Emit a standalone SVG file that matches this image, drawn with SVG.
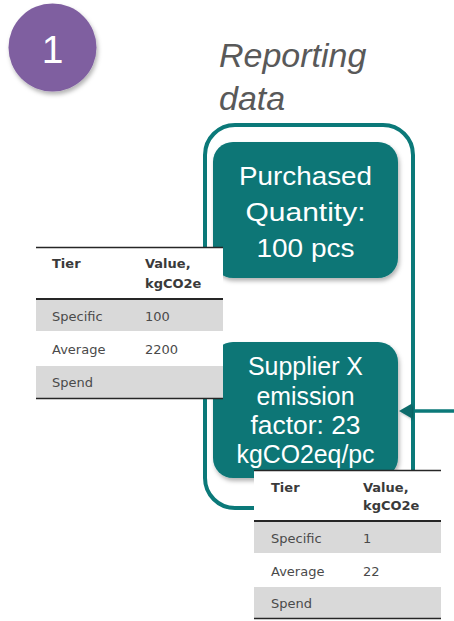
<svg xmlns="http://www.w3.org/2000/svg" width="454" height="621" viewBox="0 0 454 621">
  <defs>
    <filter id="shadow" x="-20%" y="-20%" width="140%" height="150%">
      <feDropShadow dx="1.5" dy="3" stdDeviation="2.2" flood-color="#000" flood-opacity="0.3"/>
    </filter>
    <filter id="softShadow" x="-10%" y="-10%" width="120%" height="130%">
      <feDropShadow dx="1" dy="1.5" stdDeviation="1.2" flood-color="#000" flood-opacity="0.25"/>
    </filter>
  </defs>
  <style>
    .box { fill: #087676; filter: url(#shadow); }
    .box-text { font-family: "Liberation Sans", Arial, sans-serif; font-size: 26px; fill: #ffffff; text-anchor: middle; }
    .frame { fill: none; stroke: #0b7979; stroke-width: 4; }
    .caption { font-family: "Liberation Sans", Arial, sans-serif; font-size: 34px; font-style: italic; fill: #595959; }
    .tbl-bg { fill: #ffffff; }
    .tbl-band { fill: #d9d9d9; }
    .tbl-rule { stroke: #262626; fill: none; }
    .th { font-family: "DejaVu Sans", Verdana, sans-serif; font-size: 13px; font-weight: bold; fill: #3a3a3a; }
    .td { font-family: "DejaVu Sans", Verdana, sans-serif; font-size: 13px; fill: #4a4a4a; }
    .connector { stroke: #0b7979; stroke-width: 3.5; fill: none; }
    .arrowhead { fill: #0b6a6a; filter: url(#softShadow); }
  </style>

  <!-- step badge -->
  <g id="badge">
    <circle cx="52.5" cy="47.5" r="44" fill="#7f5fa0" filter="url(#shadow)"/>
    <text x="52.5" y="63" font-family="'Liberation Sans', Arial, sans-serif" font-size="39" fill="#ffffff" text-anchor="middle">1</text>
  </g>

  <!-- section caption -->
  <g id="caption">
    <text class="caption" x="219" y="67">Reporting</text>
    <text class="caption" x="219" y="110">data</text>
  </g>

  <!-- reporting data frame -->
  <g id="frame">
    <rect class="frame" x="205" y="125" width="208" height="383" rx="30" ry="30"/>
  </g>

  <!-- purchased quantity -->
  <g id="purchased-quantity">
    <rect class="box" x="213" y="142" width="185" height="136" rx="20" ry="20"/>
    <text class="box-text" x="305.5" y="185" textLength="133" lengthAdjust="spacingAndGlyphs">Purchased</text>
    <text class="box-text" x="305.5" y="221" textLength="120" lengthAdjust="spacingAndGlyphs">Quantity:</text>
    <text class="box-text" x="305.5" y="257" textLength="98" lengthAdjust="spacingAndGlyphs">100 pcs</text>
  </g>

  <!-- supplier emission factor -->
  <g id="supplier-factor">
    <rect class="box" x="213" y="342" width="185" height="136" rx="20" ry="20"/>
    <text class="box-text" x="305.5" y="375" textLength="115" lengthAdjust="spacingAndGlyphs">Supplier X</text>
    <text class="box-text" x="305.5" y="405" textLength="98" lengthAdjust="spacingAndGlyphs">emission</text>
    <text class="box-text" x="305.5" y="434" textLength="110" lengthAdjust="spacingAndGlyphs">factor: 23</text>
    <text class="box-text" x="305.5" y="463" textLength="138" lengthAdjust="spacingAndGlyphs">kgCO2eq/pc</text>
  </g>

  <!-- connectors -->
  <g id="connectors">
    <line class="connector" x1="454" y1="411" x2="410" y2="411"/>
    <polygon class="arrowhead" points="399,411 412,403.5 412,418.5"/>
  </g>

  <!-- tier table for purchased quantity -->
  <g id="table-quantity">
    <rect class="tbl-bg" x="36" y="247" width="187" height="151"/>
    <rect class="tbl-band" x="36" y="299" width="187" height="32"/>
    <rect class="tbl-band" x="36" y="366" width="187" height="32"/>
    <line class="tbl-rule" x1="36" y1="247.5" x2="223" y2="247.5" stroke-width="1.5"/>
    <line class="tbl-rule" x1="36" y1="299" x2="223" y2="299" stroke-width="2"/>
    <line class="tbl-rule" x1="36" y1="398.5" x2="223" y2="398.5" stroke-width="1.5"/>
    <text class="th" x="52" y="268">Tier</text>
    <text class="th" x="145" y="268">Value,</text>
    <text class="th" x="145" y="288">kgCO2e</text>
    <text class="td" x="52" y="321">Specific</text>
    <text class="td" x="145" y="321">100</text>
    <text class="td" x="52" y="354">Average</text>
    <text class="td" x="145" y="354">2200</text>
    <text class="td" x="52" y="387">Spend</text>
  </g>

  <!-- tier table for supplier factor -->
  <g id="table-factor">
    <rect class="tbl-bg" x="254" y="470" width="187" height="148"/>
    <rect class="tbl-band" x="254" y="521" width="187" height="32"/>
    <rect class="tbl-band" x="254" y="587" width="187" height="31"/>
    <line class="tbl-rule" x1="254" y1="470.5" x2="441" y2="470.5" stroke-width="1.5"/>
    <line class="tbl-rule" x1="254" y1="521" x2="441" y2="521" stroke-width="2"/>
    <line class="tbl-rule" x1="254" y1="618.5" x2="441" y2="618.5" stroke-width="1.5"/>
    <text class="th" x="271" y="492">Tier</text>
    <text class="th" x="363" y="492">Value,</text>
    <text class="th" x="363" y="510">kgCO2e</text>
    <text class="td" x="271" y="543">Specific</text>
    <text class="td" x="363" y="543">1</text>
    <text class="td" x="271" y="576">Average</text>
    <text class="td" x="363" y="576">22</text>
    <text class="td" x="271" y="608">Spend</text>
  </g>
</svg>
